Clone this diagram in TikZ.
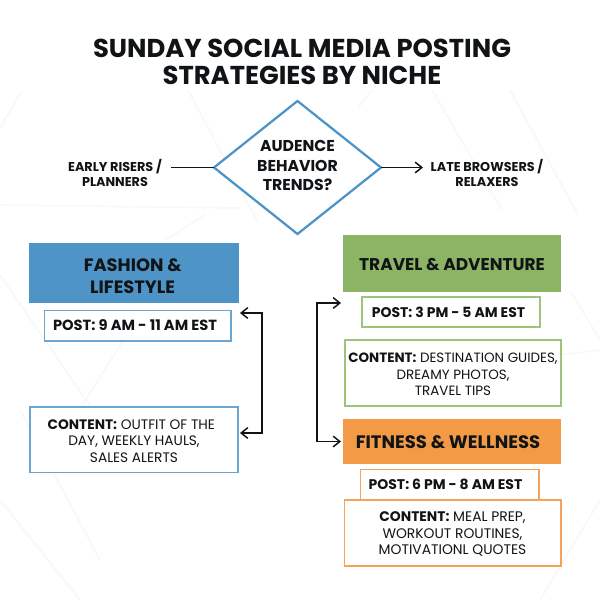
\documentclass[tikz,border=0pt]{standalone}
\usepackage{fontspec}
\setmainfont{Poppins}
\usetikzlibrary{shapes.geometric,arrows.meta}
\definecolor{ink}{HTML}{111416}
\definecolor{bluefill}{HTML}{4F94C6}
\definecolor{blueline}{HTML}{69A6D2}
\definecolor{greenfill}{HTML}{8BB564}
\definecolor{greenline}{HTML}{9CC47A}
\definecolor{orangefill}{HTML}{F29A45}
\definecolor{orangeline}{HTML}{F4A35A}
\definecolor{faint}{HTML}{F7F8F8}
\newcommand{\tall}[1]{\rule{0pt}{#1}}
\tikzset{
  x=0.75pt,y=-0.75pt,
  every node/.style={inner sep=0pt,outer sep=0pt,text=ink,align=center,line width=1pt},
  box/.style={draw,rectangle,fill=white},
  head/.style={rectangle,fill=#1},
  bodytext/.style={font=\fontsize{10.4}{12.4}\selectfont},
  posttext/.style={font=\fontsize{10.5}{12.4}\selectfont\bfseries},
  sidelabel/.style={font=\fontsize{9.6}{11.3}\selectfont\bfseries},
  link/.style={draw=ink,line width=1.1pt,-{Straight Barb[length=5pt,width=8pt,line width=1.1pt]}},
  linkboth/.style={draw=ink,line width=1.1pt,{Straight Barb[length=5pt,width=8pt,line width=1.1pt]}-{Straight Barb[length=5pt,width=8pt,line width=1.1pt]}},
  bgline/.style={draw=faint,line width=1.2pt}
}
\begin{document}
\begin{tikzpicture}
\useasboundingbox (0,0) rectangle (600,600);
\fill[white] (0,0) rectangle (600,600);
% faint background lines
\draw[bgline] (0,205) -- (240,208);
\draw[bgline] (0,128) -- (22,90);
\draw[bgline] (188,90) -- (258,222);
\draw[bgline] (358,108) -- (372,90);
\draw[bgline] (432,90) -- (502,210);
\draw[bgline] (510,90) -- (578,215);
\draw[bgline] (165,240) -- (205,215);
\draw[bgline] (0,275) -- (100,420);
\draw[bgline] (130,330) -- (60,440);
\draw[bgline] (560,355) -- (600,350);
\draw[bgline] (570,290) -- (600,340);
\draw[bgline] (20,410) -- (100,560);
\draw[bgline] (540,600) -- (600,500);
\draw[bgline] (0,500) -- (80,600);
% title
\node[font=\fontsize{19.4}{20.4}\selectfont\bfseries] (title) at (302,62)
  {SUNDAY SOCIAL MEDIA POSTING\\STRATEGIES BY NICHE};
% decision row
\node[draw=bluefill,line width=1.7pt,diamond,aspect=1.255,minimum width=167*0.75pt,minimum height=133*0.75pt,fill=white] (trend) at (297.5,167.5) {};
\node[font=\fontsize{11.8}{14.6}\selectfont\bfseries] (trendtext) at (297.5,165.5) {AUDENCE\\BEHAVIOR\\TRENDS?};
\node[sidelabel,minimum width=84pt] (early) at (115,172.5) {EARLY RISERS /\\PLANNERS};
\node[sidelabel,minimum width=96pt] (late) at (487,172.5) {LATE BROWSERS /\\RELAXERS};
\draw[draw=ink,line width=1.1pt] (early.east |- trend.west) -- (trend.west);
\draw[link] (trend.east) -- (late.west |- trend.east);
% fashion column
\node[head=bluefill,font=\fontsize{13.4}{16.5}\selectfont\bfseries,minimum width=157.5pt,minimum height=45pt] (fashion) at (134,273) {\tall{13.9pt}FASHION \&\hspace*{2pt}\\LIFESTYLE\hspace*{2pt}};
\node[box,draw=blueline,font=\fontsize{11}{12.4}\selectfont\bfseries,minimum width=140pt,minimum height=23pt] (fpost) at (137.5,325.5) {POST: 9 AM - 11 AM EST\hspace*{3.75pt}};
\node[box,draw=blueline,font=\fontsize{10.3}{12.4}\selectfont,minimum width=156pt,minimum height=49pt] (fcontent) at (134,439.5) {\tall{9.5pt}\textbf{CONTENT:} OUTFIT OF THE\hspace*{4pt}\\DAY, WEEKLY HAULS,\\SALES ALERTS};
% travel column
\node[head=greenfill,font=\fontsize{12.75}{16.5}\selectfont\bfseries,minimum width=163.5pt,minimum height=42.5pt] (travel) at (452,263.5) {\tall{10.5pt}TRAVEL \& ADVENTURE};
\node[box,draw=greenline,posttext,minimum width=133.5pt,minimum height=22.5pt] (tpost) at (451,312) {POST: 3 PM - 5 AM EST\hspace*{3.75pt}};
\node[box,draw=greenline,font=\fontsize{10.1}{12.4}\selectfont,minimum width=162pt,minimum height=49.5pt] (tcontent) at (453,373) {\tall{9.5pt}\textbf{CONTENT:} DESTINATION GUIDES,\\DREAMY PHOTOS,\\TRAVEL TIPS};
% fitness column
\node[head=orangefill,font=\fontsize{13.5}{16.5}\selectfont\bfseries,minimum width=163.5pt,minimum height=34pt] (fitness) at (452,441.5) {\tall{11pt}FITNESS \& WELLNESS\hspace*{6pt}};
\node[box,draw=orangeline,posttext,minimum width=134pt,minimum height=23pt] (gpost) at (449.5,484.5) {POST: 6 PM - 8 AM EST\hspace*{6pt}};
\node[box,draw=orangeline,bodytext,minimum width=162.5pt,minimum height=49.5pt] (gcontent) at (452.5,533) {\tall{9.5pt}\textbf{CONTENT:} MEAL PREP,\\WORKOUT ROUTINES,\\MOTIVATIONL QUOTES};
% connectors
\coordinate (fa) at (240,313);
\coordinate (fb) at (240,433);
\coordinate (fc) at (262,313);
\coordinate (fd) at (262,433);
\draw[linkboth] (fa) -- (fc) -- (fd) -- (fb);
\coordinate (ta) at (341,303);
\coordinate (tc) at (317,303);
\coordinate (td) at (317,441.5);
\draw[linkboth] (ta) -- (tc) -- (td) -- ([xshift=-1.5pt]fitness.west);
\end{tikzpicture}
\end{document}
